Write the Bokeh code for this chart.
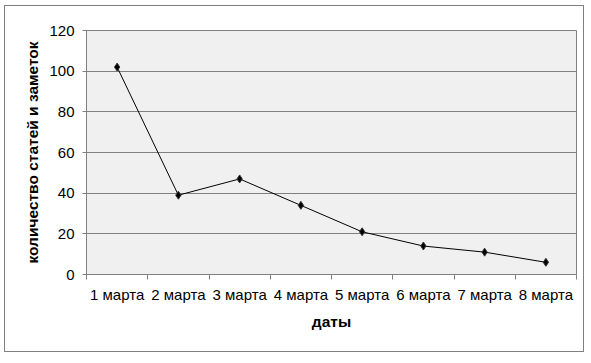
from bokeh.plotting import figure
from bokeh.models import FixedTicker, Range1d, ColumnDataSource
from bokeh.embed import file_html
from bokeh.resources import INLINE

dates = ["1 марта", "2 марта", "3 марта", "4 марта", "5 марта", "6 марта", "7 марта", "8 марта"]
counts = [102, 39, 47, 34, 21, 14, 11, 6]
y_ticks = [0, 20, 40, 60, 80, 100, 120]

xs = list(range(1, len(dates) + 1))
src = ColumnDataSource(dict(x=xs, y=counts))

p = figure(width=580, height=347, output_backend="svg", toolbar_location=None,
           x_range=Range1d(0.5, len(dates) + 0.5), y_range=Range1d(0, 120),
           min_border_left=81, min_border_top=24, min_border_right=9, min_border_bottom=79)

p.background_fill_color = "#f0f0f0"
p.border_fill_color = "white"
p.outline_line_color = "#808080"
p.outline_line_width = 1

p.line("x", "y", source=src, line_color="black", line_width=1)
p.scatter("x", "y", source=src, marker="diamond", size=8, fill_color="black", line_color="#333333")

# axes
p.xaxis.ticker = FixedTicker(ticks=xs, minor_ticks=[i + 0.5 for i in range(0, len(dates) + 1)])
p.xaxis.major_label_overrides = {i: d for i, d in zip(xs, dates)}
p.xaxis.major_tick_out = 0
p.xaxis.major_tick_in = 0
p.xaxis.minor_tick_out = 5
p.xaxis.minor_tick_in = 0
p.xaxis.minor_tick_line_color = "#808080"
p.xaxis.major_label_standoff = 6

p.yaxis.ticker = FixedTicker(ticks=y_ticks)
p.yaxis.minor_tick_line_color = None
p.yaxis.major_tick_out = 4
p.yaxis.major_tick_in = 0
p.yaxis.major_label_standoff = 8

for ax in (p.xaxis, p.yaxis):
    ax.axis_line_color = "#808080"
    ax.major_tick_line_color = "#808080"
    ax.major_label_text_font = "Liberation Sans"
    ax.major_label_text_font_size = "15px"
    ax.major_label_text_color = "black"
    ax.axis_label_text_font = "Liberation Sans"
    ax.axis_label_text_font_size = "15.5px"
    ax.axis_label_text_font_style = "bold"
    ax.axis_label_text_color = "black"

p.xaxis.axis_label = "даты"
p.xaxis.axis_label_standoff = 7
p.yaxis.axis_label = "количество статей и заметок"
p.yaxis.axis_label_standoff = 5

p.xgrid.grid_line_color = None
p.ygrid.ticker = FixedTicker(ticks=y_ticks)
p.ygrid.grid_line_color = "#808080"
p.ygrid.grid_line_width = 1

p.styles = {"border": "1px solid #808080", "margin-left": "4px", "margin-top": "5px"}

open("out.html", "w").write(file_html(p, INLINE))
